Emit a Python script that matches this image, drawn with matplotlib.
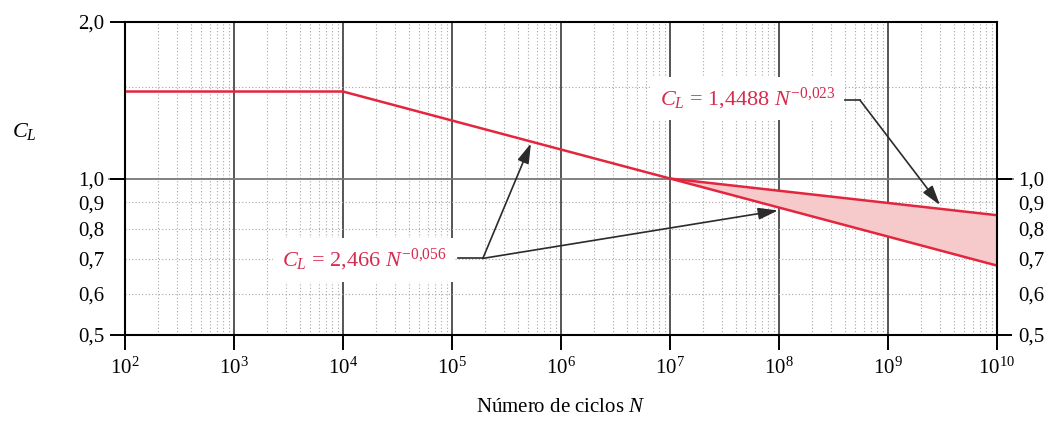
"""
plot.py - fatigue life factor C_L vs number of cycles N (log-log), Spanish labels.
"""
import numpy as np
import matplotlib
matplotlib.use("Agg")
import matplotlib.pyplot as plt

# values
n_lower = [1e2, 1e4, 1e7, 1e10]
cl_lower = [1.47, 1.47, 1.0, 0.68]
n_upper = [1e7, 1e10]
cl_upper = [1.0, 0.85]
cl_lower_band = [1.0, 0.68]      # lower curve at the band ends

y_major = [0.5, 1.0, 2.0]
y_major_labels = ["0,5", "1,0", "2,0"]
y_minor = [0.6, 0.7, 0.8, 0.9, 1.5]
y_minor_labels = ["0,6", "0,7", "0,8", "0,9", ""]
x_decades = list(range(2, 11))

txt_upper = r"$C_L$ = 1,4488 $N^{-0{,}023}$"
txt_lower = r"$C_L$ = 2,466 $N^{-0{,}056}$"

RED = "#e3263d"
TXT_RED = "#d8294e"
FILL = "#f6caca"
ARW = "#2b2b2b"

plt.rcParams["font.family"] = "Liberation Serif"
plt.rcParams["mathtext.fontset"] = "custom"
plt.rcParams["mathtext.rm"] = "Liberation Serif"
plt.rcParams["mathtext.it"] = "Liberation Serif:italic"

fig = plt.figure(figsize=(10.51, 4.23), dpi=100)
ax = fig.add_axes([0.1189, 0.208, 0.8297, 0.740])
ax.set_xscale("log")
ax.set_yscale("log")
ax.set_xlim(1e2, 1e10)
ax.set_ylim(0.5, 2.0)

# grid
for d in x_decades[1:-1]:
    ax.axvline(10.0 ** d, color="#555555", lw=1.4, zorder=1)
for d in x_decades[:-1]:
    for m in range(2, 10):
        ax.axvline(m * 10.0 ** d, color="#a8a8a8", lw=0.8, ls=(0, (1, 2)), zorder=1)
for y in y_minor:
    ax.axhline(y, color="#a8a8a8", lw=0.8, ls=(0, (1, 2)), zorder=1)
ax.axhline(1.0, xmin=-0.018, xmax=1.018, color="#777777", lw=1.3, zorder=1, clip_on=False)

# band and curves
ax.fill_between(n_upper, cl_lower_band, cl_upper, color=FILL, lw=0, zorder=2)
ax.plot(n_lower, cl_lower, color=RED, lw=1.8, zorder=3)
ax.plot(n_upper, cl_upper, color=RED, lw=1.8, zorder=3)

# ticks
ax.set_xticks([10.0 ** d for d in x_decades])
ax.set_xticklabels([r"$10^{%d}$" % d for d in x_decades], fontsize=15)
ax.xaxis.set_minor_locator(matplotlib.ticker.NullLocator())
ax.tick_params(axis="x", which="major", direction="out", length=11, width=1.4, pad=5)

ax.set_yticks(y_major)
ax.set_yticklabels(y_major_labels)
ax.set_yticks(y_minor, minor=True)
ax.set_yticklabels(y_minor_labels, minor=True)
ax.tick_params(axis="y", which="major", direction="out", length=11, width=1.4,
               pad=4, labelsize=15, left=True, right=True, labelleft=True, labelright=True)
ax.tick_params(axis="y", which="minor", length=0, pad=15, labelsize=15,
               left=True, right=True, labelleft=True, labelright=True)
# no 2,0 on the right side
top_tick = ax.yaxis.get_major_ticks()[2]
top_tick.tick2line.set_visible(False)
top_tick.label2.set_visible(False)

for s in ax.spines.values():
    s.set_linewidth(1.5)
    s.set_zorder(4)

ax.set_xlabel(r"Número de ciclos $N$", fontsize=15, labelpad=14)
fig.text(0.023, 0.69, r"$C_L$", fontsize=16, ha="center", va="center")

# annotations
box = dict(boxstyle="square,pad=0.4", fc="white", ec="none")
ax.text(5.2e7, 1.425, txt_upper, color=TXT_RED, fontsize=16, ha="center", va="center",
        bbox=box, zorder=5)
ax.text(1.56e4, 0.696, txt_lower, color=TXT_RED, fontsize=16, ha="center", va="center",
        bbox=box, zorder=5)

aprops = dict(arrowstyle="-|>,head_length=1.0,head_width=0.3", color=ARW, lw=1.2,
              shrinkA=0, shrinkB=0, mutation_scale=12)
# upper pointer
ax.plot([10 ** 8.606, 10 ** 8.743], [1.415, 1.415], color=ARW, lw=1.2, zorder=6)
ax.annotate("", xy=(10 ** 9.477, 0.889), xytext=(10 ** 8.743, 1.415),
            arrowprops=aprops, zorder=6)
# lower pointers
ax.plot([1.14e5, 1.92e5], [0.702, 0.702], color=ARW, lw=1.2, zorder=6)
ax.annotate("", xy=(5.3e5, 1.168), xytext=(1.92e5, 0.702), arrowprops=aprops, zorder=6)
ax.annotate("", xy=(9.8e7, 0.868), xytext=(1.92e5, 0.702), arrowprops=aprops, zorder=6)

fig.savefig("out.png", dpi=100)
